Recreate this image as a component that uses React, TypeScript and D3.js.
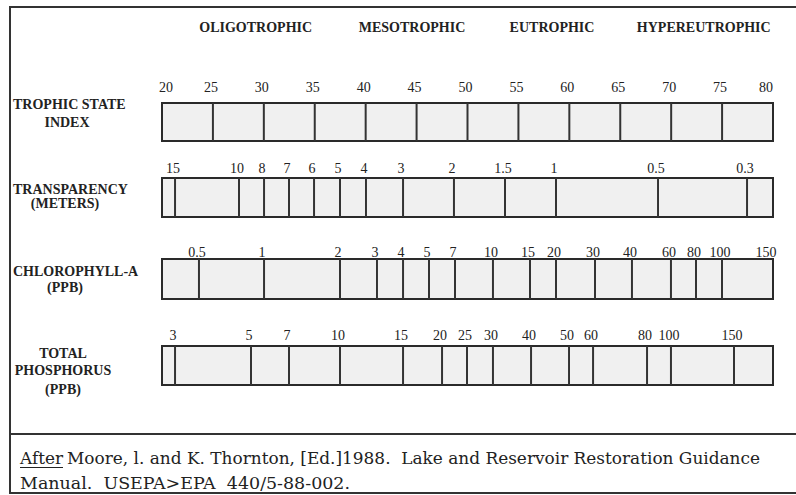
import React from "react";
import * as d3 from "d3";

// ---- data ----
const categories = ["OLIGOTROPHIC", "MESOTROPHIC", "EUTROPHIC", "HYPEREUTROPHIC"];
const categoryTsi = [29.2, 44.55, 58.3, 73.2];

const tsiTicks = [20, 25, 30, 35, 40, 45, 50, 55, 60, 65, 70, 75, 80];

const transparencyLabels = ["15", "10", "8", "7", "6", "5", "4", "3", "2", "1.5", "1", "0.5", "0.3"];
const transparencyTsi = [21.28, 27.56, 30.02, 32.47, 34.93, 37.48, 40.03, 43.67, 48.67, 53.68, 58.69, 68.71, 77.45];

const chlorophyllLabels = ["0.5", "1", "2", "3", "4", "5", "7", "10", "15", "20", "30", "40", "60", "80", "100", "150"];
const chlorophyllTsi = [23.63, 30.02, 37.48, 41.11, 43.67, 46.22, 48.77, 52.5, 56.14, 58.69, 62.52, 66.15, 69.98, 72.44, 74.99, 79.6];

const phosphorusLabels = ["3", "5", "7", "10", "15", "20", "25", "30", "40", "50", "60", "80", "100", "150"];
const phosphorusTsi = [21.28, 28.74, 32.47, 37.48, 43.67, 47.5, 49.95, 52.5, 56.24, 59.97, 62.33, 67.63, 69.98, 76.17];

const rowNames = [
  ["TROPHIC STATE", "INDEX"],
  ["TRANSPARENCY", "(METERS)"],
  ["CHLOROPHYLL-A", "(PPB)"],
  ["TOTAL", "PHOSPHORUS", "(PPB)"],
];

const footerLead = "After";
const footerLine1 = "Moore, l. and K. Thornton, [Ed.]1988.  Lake and Reservoir Restoration Guidance";
const footerLine2 = "Manual.  USEPA>EPA  440/5-88-002.";

// ---- layout ----
const W = 796;
const H = 495;
const x = d3.scaleLinear().domain([20, 80]).range([162, 773]);

const rows = [
  { labels: tsiTicks.map(String), tsi: tsiTicks, barY: 103, barH: 38, labelY: 92, nameY: [109, 127], nameX: [13, 67], nameAnchor: ["start", "middle"] },
  { labels: transparencyLabels, tsi: transparencyTsi, barY: 178, barH: 39, labelY: 173, nameY: [194, 208], nameX: [13, 65], nameAnchor: ["start", "middle"] },
  { labels: chlorophyllLabels, tsi: chlorophyllTsi, barY: 259, barH: 40, labelY: 257, nameY: [276, 292], nameX: [13, 65], nameAnchor: ["start", "middle"] },
  { labels: phosphorusLabels, tsi: phosphorusTsi, barY: 346, barH: 39, labelY: 340, nameY: [358, 375, 394], nameX: [63, 63, 63], nameAnchor: ["middle", "middle", "middle"] },
];

const serif = "'Liberation Serif', 'Times New Roman', serif";
const footSerif = "'DejaVu Serif', serif";
const ink = "#222";

export default function App() {
  const [x0, x1] = x.range();
  return (
    <svg
      width={W}
      height={H}
      viewBox={`0 0 ${W} ${H}`}
      style={{ position: "absolute", left: 0, top: 0, background: "#fff" }}
    >
      <rect x={0} y={0} width={W} height={H} fill="#fff" />
      {/* frame */}
      <rect x={10} y={7} width={W + 20} height={486} fill="none" stroke="#333" strokeWidth={2} />
      <line x1={10} x2={W + 10} y1={434} y2={434} stroke="#333" strokeWidth={2} />

      {/* category headers */}
      {categories.map((c, i) => (
        <text
          key={c}
          x={x(categoryTsi[i])}
          y={32}
          textAnchor="middle"
          fontFamily={serif}
          fontWeight="bold"
          fontSize={14}
          fill={ink}
        >
          {c}
        </text>
      ))}

      {rows.map((r, ri) => (
        <g key={ri}>
          {rowNames[ri].map((line, li) => (
            <text
              key={li}
              x={r.nameX[li]}
              y={r.nameY[li]}
              textAnchor={r.nameAnchor[li] as any}
              fontFamily={serif}
              fontWeight="bold"
              fontSize={14}
              fill={ink}
            >
              {line}
            </text>
          ))}
          <rect x={x0} y={r.barY} width={x1 - x0} height={r.barH} fill="#f0f0f0" stroke="#2a2a2a" strokeWidth={2} />
          {r.tsi
            .filter((t) => t > 20.5 && t < 79)
            .map((t, i) => (
              <line key={i} x1={x(t)} x2={x(t)} y1={r.barY} y2={r.barY + r.barH} stroke="#333" strokeWidth={2} />
            ))}
          {r.labels.map((lab, i) => (
            <text
              key={lab + i}
              x={Math.max(166, Math.min(766, x(r.tsi[i]) - 2))}
              y={r.labelY}
              textAnchor="middle"
              fontFamily={serif}
              fontSize={14}
              fill={ink}
            >
              {lab}
            </text>
          ))}
        </g>
      ))}

      {/* footer */}
      <text x={20} y={464} fontFamily={footSerif} fontSize={16} fill={ink} textLength={43} lengthAdjust="spacingAndGlyphs">
        {footerLead}
      </text>
      <line x1={20} x2={63} y1={467.5} y2={467.5} stroke={ink} strokeWidth={1} />
      <text
        x={67}
        y={464}
        fontFamily={footSerif}
        fontSize={16}
        fill={ink}
        textLength={693}
        lengthAdjust="spacingAndGlyphs"
        style={{ whiteSpace: "pre" }}
      >
        {footerLine1}
      </text>
      <text
        x={20}
        y={489}
        fontFamily={footSerif}
        fontSize={16}
        fill={ink}
        textLength={330}
        lengthAdjust="spacingAndGlyphs"
        style={{ whiteSpace: "pre" }}
      >
        {footerLine2}
      </text>
    </svg>
  );
}
